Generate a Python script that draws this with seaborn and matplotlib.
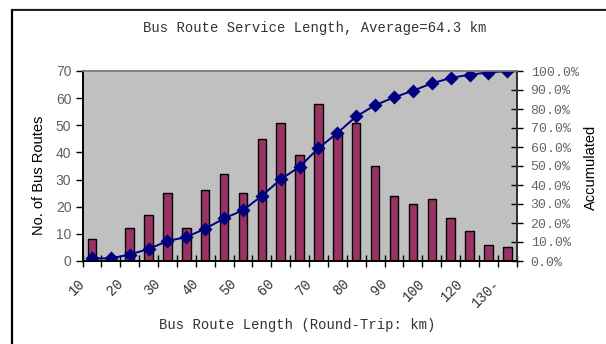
import numpy as np
import pandas as pd
import matplotlib
matplotlib.use("Agg")
import matplotlib.pyplot as plt
from matplotlib.lines import Line2D
from matplotlib.transforms import ScaledTranslation
import seaborn as sns

# ---- data ----
categories = ["10", "15", "20", "25", "30", "35", "40", "45", "50", "55", "60", "65",
              "70", "75", "80", "85", "90", "95", "100", "110", "120", "125", "130-"]
route_counts = [8, 0, 12, 17, 25, 12, 26, 32, 25, 45, 51, 39,
                58, 47, 51, 35, 24, 21, 23, 16, 11, 6, 5]
accumulated_pct = [1.4, 1.4, 3.4, 6.3, 10.5, 12.6, 17.0, 22.4, 26.7, 34.3, 43.0, 49.6,
                   59.4, 67.4, 76.1, 82.0, 86.1, 89.6, 93.5, 96.3, 98.1, 99.2, 100.0]
shown_labels = ["10", "20", "30", "40", "50", "60", "70", "80", "90", "100", "120", "130-"]
title = "Bus Route Service Length, Average=64.3 km"
xlabel = "Bus Route Length (Round-Trip: km)"
ylabel_left = "No. of Bus Routes"
ylabel_right = "Accumulated"

df = pd.DataFrame({"cat": categories, "count": route_counts, "acc": accumulated_pct})

sns.set_theme(style="white")
plt.rcParams["font.family"] = ["Liberation Sans", "DejaVu Sans"]

W, H = 606, 344
fig = plt.figure(figsize=(W / 100, H / 100), dpi=100)
L, R, T, B = 82.5, 516.7, 71, 261
ax = fig.add_axes([L / W, 1 - B / H, (R - L) / W, (B - T) / H])
ax.set_facecolor("#C0C0C0")

sns.barplot(data=df, x="cat", y="count", order=categories, color="#993366",
            saturation=1, width=0.45, edgecolor="black", linewidth=1.0, ax=ax)

ax2 = ax.twinx()
sns.pointplot(data=df, x="cat", y="acc", order=categories, color="#000080",
              markers="D", markersize=6.5, linewidth=1.4, ax=ax2)

n = len(categories)
ax.set_xlim(-0.5, n - 0.5)
ax2.set_xlim(-0.5, n - 0.5)
ax.set_ylim(0, 70)
ax2.set_ylim(0, 100)

# y ticks
ax.set_yticks(range(0, 71, 10))
ax.set_yticklabels([str(v) for v in range(0, 71, 10)], fontsize=10,
                   color="#606060", family="Liberation Sans")
ax.tick_params(axis="y", direction="out", length=5, width=1, color="black", pad=3, left=True)
ax2.set_yticks(range(0, 101, 10))
ax2.set_yticklabels([f"{v:.1f}%" for v in range(0, 101, 10)], fontsize=9.5,
                    color="#666666", family="Liberation Mono")
ax2.tick_params(axis="y", direction="inout", length=8, width=1, color="black", pad=6, right=True)

# x ticks: boundaries as major ticks, labels on minor ticks
ax.set_xticks(np.arange(-0.5, n, 1.0))
ax.set_xticklabels([])
ax.tick_params(axis="x", which="major", direction="inout", length=8, width=1,
               color="black", bottom=True)
ax.set_xticks(range(0, n, 2), minor=True)
ax.set_xticklabels(shown_labels, minor=True, rotation=45, ha="right",
                   rotation_mode="anchor", fontsize=10, color="#333333",
                   family="Liberation Mono")
ax.tick_params(axis="x", which="minor", length=0, pad=11)
for lab in ax.get_xticklabels(minor=True):
    lab.set_transform(lab.get_transform() + ScaledTranslation(-14 / 100, 0, fig.dpi_scale_trans))
ax2.tick_params(axis="x", which="both", length=0, labelbottom=False, labeltop=False)

ax.set_xlabel("")
ax.set_ylabel("")
ax2.set_xlabel("")
ax2.set_ylabel("")
ax.grid(False)
ax2.grid(False)

for a in (ax, ax2):
    a.spines["top"].set_color("#808080")
    a.spines["top"].set_linewidth(1.2)
    a.spines["left"].set_color("black")
    a.spines["left"].set_linewidth(1.2)
    a.spines["bottom"].set_color("black")
    a.spines["bottom"].set_linewidth(1.2)
    a.spines["right"].set_color("#333333")
    a.spines["right"].set_linewidth(1.4)

# texts
fig.text(315 / W, 1 - 28 / H, title, ha="center", va="center", fontsize=10,
         family="Liberation Mono", color="#333333")
fig.text(297.5 / W, 1 - 325 / H, xlabel, ha="center", va="center", fontsize=10,
         family="Liberation Mono", color="#333333")
fig.text(39 / W, 1 - 175 / H, ylabel_left, ha="center", va="center", rotation=90,
         fontsize=10.5, family="Liberation Sans", color="black")
fig.text(591 / W, 1 - 167 / H, ylabel_right, ha="center", va="center", rotation=90,
         fontsize=10.5, family="Liberation Sans", color="black")

# outer frame (top and left edges visible in reference)
fig.add_artist(Line2D([11.5 / W, 1.0], [1 - 8.5 / H, 1 - 8.5 / H], transform=fig.transFigure,
                      color="#909090", linewidth=1.0))
fig.add_artist(Line2D([11.5 / W, 1.0], [1 - 9.5 / H, 1 - 9.5 / H], transform=fig.transFigure,
                      color="black", linewidth=1.2))
fig.add_artist(Line2D([11.5 / W, 11.5 / W], [1 - 9.5 / H, 0], transform=fig.transFigure,
                      color="black", linewidth=1.6))

fig.savefig("out.png", dpi=100, facecolor="white")
